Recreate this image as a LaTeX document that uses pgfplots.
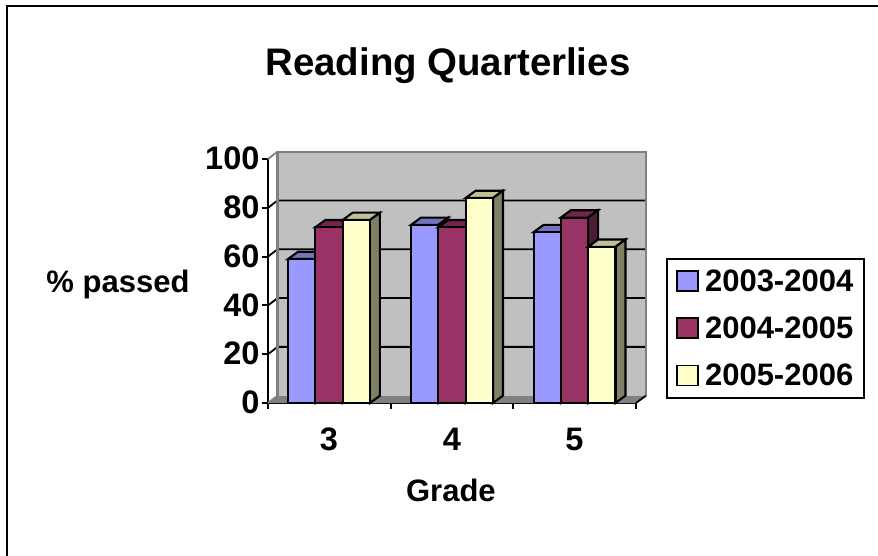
\documentclass[border=0pt]{standalone}
\usepackage{fontspec}
\setmainfont{Liberation Sans}
\usepackage{pgfplots}
\pgfplotsset{compat=1.18}
\definecolor{cblue}{HTML}{9999FF}\definecolor{cbluet}{HTML}{7373BF}\definecolor{cblues}{HTML}{4D4D80}
\definecolor{cred}{HTML}{993366}\definecolor{credt}{HTML}{73264D}\definecolor{creds}{HTML}{4D1A33}
\definecolor{cyel}{HTML}{FFFFCC}\definecolor{cyelt}{HTML}{BFBF99}\definecolor{cyels}{HTML}{808066}
\definecolor{wall}{HTML}{C0C0C0}\definecolor{edge}{HTML}{808080}
\newcommand{\fs}{\fontsize{31}{36}\bfseries\selectfont}
\newcommand{\fst}{\fontsize{32.5}{38}\bfseries\selectfont}
\pgfplotstableread{
x   a   b   c
61  59  72  75
184 73  72  84
306.5 70 76 64
}\grades
\tikzset{face/.style={line width=2.1pt,draw=black,line join=miter}}
\begin{document}
\begin{tikzpicture}[x=1pt,y=1pt]
\useasboundingbox (-268,-153) rectangle (610,403);
\draw[line width=2pt,black] (-260.5,-153) -- (-260.5,396.5) -- (610,396.5);
\begin{axis}[
  scale only axis,width=368pt,height=244pt,
  xmin=0,xmax=368,ymin=0,ymax=100,clip=false,
  axis x line*=bottom,axis y line*=left,
  axis line style={black,line width=2.1pt,-},
  tick align=outside,
  xtick={61,184,306.5},xticklabels={3,4,5},
  minor xtick={0,122.67,245.33,368},
  ytick={0,20,40,60,80,100},
  major x tick style={draw=none},
  tick style={black,line width=1.9pt},
  major tick length=6pt,minor tick length=6pt,
  /pgf/number format/assume math mode=true,
  tick label style={font=\fst},
  xticklabel style={yshift=-14pt,text height=23.5pt,text depth=0pt},
  yticklabel style={xshift=1pt,yshift=0.5pt},
  title={Reading Quarterlies},
  title style={font=\fontsize{38.4}{44}\bfseries\selectfont,at={(axis description cs:0.489,1.3565)},anchor=center},
  xlabel={Grade},ylabel={\% passed},
  every axis x label/.style={at={(axis description cs:0.497,-0.357)},anchor=center,font=\fs},
  every axis y label/.style={at={(axis description cs:-0.4076,0.484)},anchor=center,rotate=0,font=\fs},
  legend style={at={(axis description cs:1.0815,0.594)},anchor=north west,draw=black,line width=2.1pt,
    font=\fs,inner xsep=9pt,inner ysep=8.5pt,row sep=20pt,legend cell align=left},
  legend image code/.code={\draw[#1,line width=1.9pt] (0pt,-10pt) rectangle (21pt,10pt);\path (25pt,0pt);},
]
% walls
\addplot[forget plot,fill=edge,draw=edge,line width=0.5pt] coordinates {(0,0)(368,0)(378,3)(9.5,3)} --cycle;
\addplot[forget plot,fill=wall,draw=none] coordinates {(9.5,3)(378,3)(378,103)(9.5,103)} --cycle;
% gridlines on the back wall
\addplot[forget plot,black,line width=1.8pt] coordinates {(0,20)(9.5,23)(378,23)};
\addplot[forget plot,black,line width=1.8pt] coordinates {(0,40)(9.5,43)(378,43)};
\addplot[forget plot,black,line width=1.8pt] coordinates {(0,60)(9.5,63)(378,63)};
\addplot[forget plot,black,line width=1.8pt] coordinates {(0,80)(9.5,83)(378,83)};
\addplot[forget plot,edge,line width=2.2pt] coordinates {(9.5,3)(9.5,103)(378,103)(378,3)};
\addplot[forget plot,edge,line width=1.8pt] coordinates {(0,100)(9.5,103)};
\addplot[forget plot,edge,line width=1.8pt] coordinates {(0,0)(9.5,3)};
\addplot[forget plot,black,line width=1.8pt] coordinates {(368,0)(378,3)};
% blue
\addplot[forget plot,face,fill=cbluet] coordinates {(20.05,59)(47.35,59)(57.35,62)(30.05,62)} --cycle;
\addplot[forget plot,face,fill=cblues] coordinates {(47.35,0)(57.35,3)(57.35,62)(47.35,59)} --cycle;
\addplot[forget plot,face,fill=cbluet] coordinates {(143.05,73)(170.35,73)(180.35,76)(153.05,76)} --cycle;
\addplot[forget plot,face,fill=cblues] coordinates {(170.35,0)(180.35,3)(180.35,76)(170.35,73)} --cycle;
\addplot[forget plot,face,fill=cbluet] coordinates {(265.55,70)(292.85,70)(302.85,73)(275.55,73)} --cycle;
\addplot[forget plot,face,fill=cblues] coordinates {(292.85,0)(302.85,3)(302.85,73)(292.85,70)} --cycle;
\addplot[ybar,bar width=27.3pt,bar shift=-27.3pt,fill=cblue,face] table[x=x,y=a] {\grades};
\addlegendentry{2003-2004}
% red
\addplot[forget plot,face,fill=credt] coordinates {(47.35,72)(74.65,72)(84.65,75)(57.35,75)} --cycle;
\addplot[forget plot,face,fill=creds] coordinates {(74.65,0)(84.65,3)(84.65,75)(74.65,72)} --cycle;
\addplot[forget plot,face,fill=credt] coordinates {(170.35,72)(197.65,72)(207.65,75)(180.35,75)} --cycle;
\addplot[forget plot,face,fill=creds] coordinates {(197.65,0)(207.65,3)(207.65,75)(197.65,72)} --cycle;
\addplot[forget plot,face,fill=credt] coordinates {(292.85,76)(320.15,76)(330.15,79)(302.85,79)} --cycle;
\addplot[forget plot,face,fill=creds] coordinates {(320.15,0)(330.15,3)(330.15,79)(320.15,76)} --cycle;
\addplot[ybar,bar width=27.3pt,bar shift=0pt,fill=cred,face] table[x=x,y=b] {\grades};
\addlegendentry{2004-2005}
% yellow
\addplot[forget plot,face,fill=cyelt] coordinates {(74.65,75)(101.95,75)(111.95,78)(84.65,78)} --cycle;
\addplot[forget plot,face,fill=cyels] coordinates {(101.95,0)(111.95,3)(111.95,78)(101.95,75)} --cycle;
\addplot[forget plot,face,fill=cyelt] coordinates {(197.65,84)(224.95,84)(234.95,87)(207.65,87)} --cycle;
\addplot[forget plot,face,fill=cyels] coordinates {(224.95,0)(234.95,3)(234.95,87)(224.95,84)} --cycle;
\addplot[forget plot,face,fill=cyelt] coordinates {(320.15,64)(347.45,64)(357.45,67)(330.15,67)} --cycle;
\addplot[forget plot,face,fill=cyels] coordinates {(347.45,0)(357.45,3)(357.45,67)(347.45,64)} --cycle;
\addplot[ybar,bar width=27.3pt,bar shift=27.3pt,fill=cyel,face] table[x=x,y=c] {\grades};
\addlegendentry{2005-2006}
\end{axis}
\end{tikzpicture}
\end{document}
